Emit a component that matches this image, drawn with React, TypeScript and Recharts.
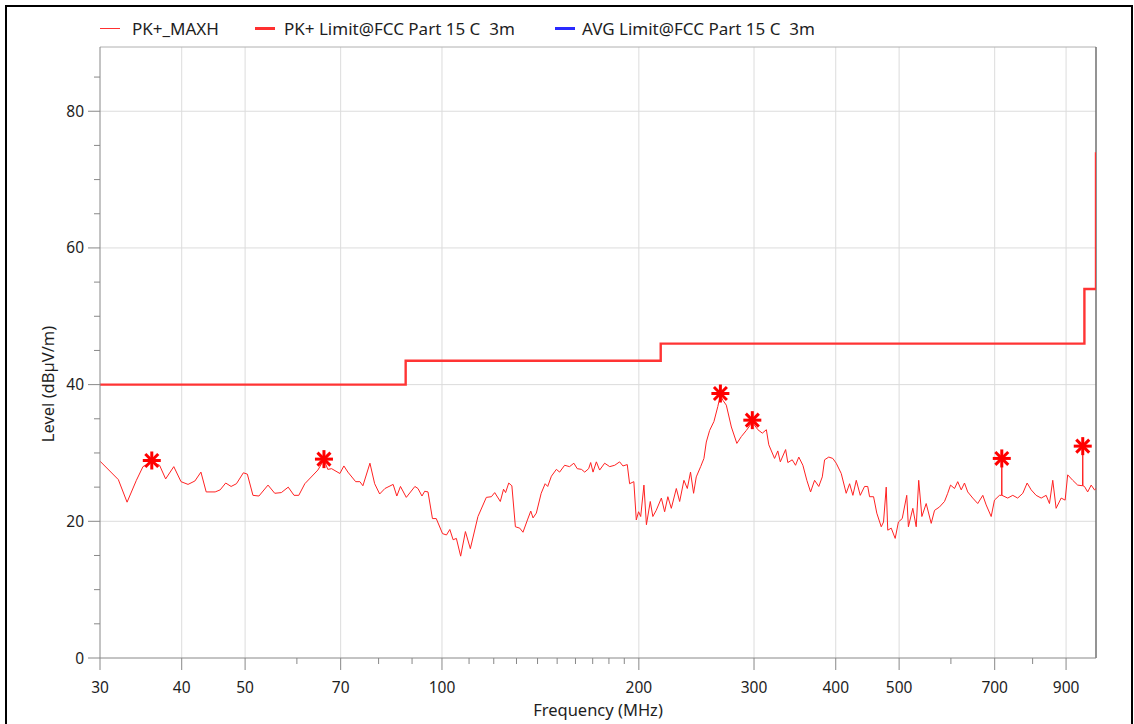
import React from "react";
import { ComposedChart, Line, Scatter, XAxis, YAxis, ReferenceLine } from "recharts";

// ---- data ----
const pkFreq = [
  30.0, 32.0, 33.0, 34.1, 34.9, 36.0, 37.0, 37.8, 38.9, 39.9, 40.9, 41.9, 42.8, 43.6, 45.0, 45.8, 46.7, 47.6, 48.5, 49.7,
  50.4, 51.4, 52.5, 54.2, 55.5, 56.8, 58.2, 59.4, 60.4, 61.7, 64.6, 66.0, 66.9, 67.8, 69.8, 70.8, 71.8, 73.8, 74.9, 75.7,
  77.6, 78.9, 80.3, 81.8, 84.2, 85.3, 86.4, 88.2, 90.9, 91.9, 93.2, 94.1, 95.2, 96.7, 98.0, 100.2, 101.6, 102.8, 104.0, 105.2,
  106.8, 108.6, 110.5, 113.5, 116.9, 119.0, 120.4, 122.8, 124.2, 125.1, 126.5, 127.9, 129.5, 131.5, 133.0, 135.1, 136.7, 137.8, 139.4, 141.8,
  143.8, 145.1, 147.0, 149.6, 151.3, 154.0, 156.7, 159.1, 161.0, 163.4, 165.3, 167.6, 168.8, 170.2, 172.2, 174.2, 177.3, 180.5, 183.7, 186.9,
  189.1, 192.0, 193.6, 196.5, 198.2, 199.8, 201.3, 203.6, 205.4, 208.2, 210.1, 212.6, 216.5, 219.0, 221.5, 224.2, 228.2, 230.9, 234.4, 237.2,
  239.9, 242.5, 244.8, 248.6, 251.5, 253.6, 256.6, 260.5, 264.1, 266.5, 268.9, 272.1, 277.0, 282.4, 286.9, 292.0, 298.2, 304.1, 308.9, 313.3,
  316.0, 322.5, 326.2, 329.1, 335.3, 337.9, 343.2, 347.2, 351.2, 356.3, 361.3, 366.1, 371.3, 376.8, 381.5, 384.6, 390.3, 395.9, 400.7, 407.8,
  415.0, 420.0, 424.9, 430.0, 436.1, 442.7, 447.7, 450.6, 457.0, 462.2, 469.5, 473.3, 477.8, 480.4, 486.3, 493.1, 498.8, 505.5, 513.6, 516.6,
  524.7, 531.0, 535.7, 541.7, 550.0, 559.8, 566.4, 576.4, 586.6, 593.3, 599.2, 607.7, 614.6, 622.2, 629.4, 636.6, 648.0, 659.4, 671.3, 679.3,
  691.4, 699.5, 711.9, 717.2, 717.7, 718.2, 732.8, 746.0, 759.0, 772.8, 784.7, 796.0, 809.9, 824.5, 839.0, 848.9, 858.8, 869.0, 884.6, 897.0,
  905.1, 921.4, 937.5, 953.6, 954.4, 955.2, 960.2, 971.1, 983.2, 994.6, 1000,
];
const pkLevel = [
  28.8, 26.1, 22.8, 26.0, 28.0, 28.7, 28.2, 26.2, 28.0, 25.8, 25.4, 25.9, 27.2, 24.3, 24.3, 24.6, 25.6, 25.1, 25.5, 27.1,
  26.9, 23.8, 23.7, 25.3, 24.1, 24.2, 25.0, 23.8, 23.8, 25.5, 27.5, 29.0, 27.6, 27.7, 27.0, 28.1, 27.2, 25.8, 25.8, 25.2,
  28.5, 25.5, 24.0, 24.8, 25.4, 23.7, 25.1, 23.5, 25.1, 24.8, 23.7, 24.4, 24.3, 20.4, 20.4, 18.2, 18.0, 18.8, 17.3, 17.5,
  14.9, 18.5, 16.0, 20.7, 23.5, 23.6, 24.2, 22.9, 24.7, 24.2, 25.6, 25.2, 19.2, 19.0, 18.4, 20.2, 21.5, 20.5, 21.2, 24.1,
  25.5, 25.1, 26.6, 27.6, 27.2, 28.2, 28.0, 28.5, 27.7, 27.6, 27.2, 27.7, 28.6, 27.2, 28.7, 27.5, 28.5, 28.0, 28.2, 28.7,
  28.1, 28.3, 25.5, 25.8, 20.2, 21.4, 20.7, 25.3, 19.5, 22.9, 20.7, 21.6, 23.4, 21.4, 23.6, 21.9, 24.8, 22.9, 26.0, 24.8,
  27.2, 24.1, 26.5, 28.0, 29.2, 31.6, 33.3, 34.6, 36.8, 38.5, 37.7, 37.0, 33.8, 31.4, 32.4, 33.3, 34.5, 33.4, 32.9, 33.4,
  31.2, 29.2, 30.3, 28.7, 30.5, 28.6, 29.0, 28.2, 29.4, 28.2, 26.0, 24.3, 26.0, 25.1, 26.5, 29.0, 29.4, 29.2, 28.5, 27.0,
  24.1, 25.5, 23.8, 26.0, 23.8, 25.1, 25.1, 23.6, 23.6, 21.2, 19.2, 19.9, 25.0, 18.7, 19.0, 17.5, 19.9, 20.4, 23.8, 19.2,
  21.9, 19.2, 26.0, 20.7, 22.6, 19.7, 21.6, 22.1, 22.9, 24.1, 25.3, 24.8, 25.8, 24.6, 25.6, 24.3, 23.4, 22.6, 23.8, 22.4,
  20.7, 23.1, 23.8, 23.8, 29.0, 23.8, 23.4, 23.8, 23.4, 24.1, 25.6, 24.6, 23.8, 23.4, 23.8, 22.6, 26.0, 21.9, 23.4, 23.1,
  26.8, 26.0, 25.3, 25.2, 30.9, 25.2, 25.1, 24.3, 25.3, 24.6, 24.8,
];

const limitFreq = [30, 88, 88, 216, 216, 960, 960, 1000, 1000];
const limitLevel = [40, 40, 43.5, 43.5, 46, 46, 54, 54, 74];

const markerFreq = [36.0, 66.0, 266.5, 298.2, 717.7, 954.4];
const markerLevel = [28.9, 29.1, 38.7, 34.8, 29.2, 31.0];

const freqTicksMajor = [30, 40, 50, 70, 100, 200, 300, 400, 500, 700, 900];
const freqTicksMinor = [60, 80, 90, 110, 120, 130, 140, 150, 160, 170, 180, 190, 600, 800];
const freqGrid = [40, 50, 70, 100, 200, 300, 400, 500, 700, 900];
const levelTicksMajor = [0, 20, 40, 60, 80];
const levelTicksMinor = [5, 10, 15, 25, 30, 35, 45, 50, 55, 65, 70, 75, 85];
const levelGrid = [20, 40, 60, 80];

const legendNames = ["PK+_MAXH", "PK+ Limit@FCC Part 15 C  3m", "AVG Limit@FCC Part 15 C  3m"];

const X_MIN = 30;
const X_MAX = 1000;
const Y_MAX = 89.4;

const pkData = pkFreq.map((f, i) => ({ f, v: pkLevel[i] }));
const limitData = limitFreq.map((f, i) => ({ f, v: limitLevel[i] }));
const markerData = markerFreq.map((f, i) => ({ f, v: markerLevel[i] }));

const FONT = "'Noto Sans', 'Open Sans', sans-serif";
const majorFreqSet = new Set(freqTicksMajor);
const majorLevelSet = new Set(levelTicksMajor);

const XTick = (props: any) => {
  const { x, y, payload } = props;
  const v = payload.value;
  const major = majorFreqSet.has(v);
  return (
    <g>
      <line x1={x} x2={x} y1={y} y2={y + (major ? 12 : 6)} stroke="#888" strokeWidth={1} />
      {major && (
        <text x={x} y={y + 35} textAnchor="middle" fontSize={15.5} fontFamily={FONT} fill="#1e1e1e">
          {v}
        </text>
      )}
    </g>
  );
};

const YTick = (props: any) => {
  const { x, y, payload } = props;
  const v = payload.value;
  const major = majorLevelSet.has(v);
  return (
    <g>
      <line x1={x - (major ? 12 : 6)} x2={x} y1={y} y2={y} stroke="#888" strokeWidth={1} />
      {major && (
        <text x={x - 16} y={y + 5.5} textAnchor="end" fontSize={15.5} fontFamily={FONT} fill="#1e1e1e">
          {v}
        </text>
      )}
    </g>
  );
};

const Asterisk = (props: any) => {
  const { cx, cy } = props;
  const r = 9;
  const d = r * 0.72;
  return (
    <g stroke="#ff0000" strokeWidth={3} strokeLinecap="butt">
      <line x1={cx - r} x2={cx + r} y1={cy} y2={cy} />
      <line x1={cx} x2={cx} y1={cy - r} y2={cy + r} />
      <line x1={cx - d} x2={cx + d} y1={cy - d} y2={cy + d} />
      <line x1={cx - d} x2={cx + d} y1={cy + d} y2={cy - d} />
    </g>
  );
};

const legendColors = ["#ff3030", "#ff3030", "#2a2aff"];
const legendWidths = [1, 3, 3];
const legendLeft = [100, 255, 555];
const legendGap = [12, 9, 7];

export default function App() {
  return (
    <div style={{ position: "absolute", left: 0, top: 0, width: 1134, height: 724, background: "#fff", overflow: "hidden" }}>
      <div
        style={{
          position: "absolute",
          left: 5,
          top: 5,
          width: 1124,
          height: 740,
          borderLeft: "2px solid #000",
          borderTop: "2px solid #000",
          borderRight: "2px solid #000",
        }}
      />
      {legendNames.map((n, i) => (
        <div key={n} style={{ position: "absolute", left: legendLeft[i], top: 16, height: 24, display: "flex", alignItems: "center" }}>
          <div style={{ width: 20, height: legendWidths[i], background: legendColors[i], marginRight: legendGap[i] }} />
          <span style={{ fontFamily: FONT, fontSize: 17, color: "#1e1e1e", whiteSpace: "pre" }}>{n}</span>
        </div>
      ))}
      <div style={{ position: "absolute", left: 0, top: 0 }}>
        <ComposedChart width={1134} height={724} margin={{ top: 47, right: 38, bottom: 0, left: 0 }}>
          <XAxis
            dataKey="f"
            type="number"
            scale="log"
            domain={[X_MIN, X_MAX]}
            allowDataOverflow
            ticks={[...freqTicksMajor, ...freqTicksMinor]}
            interval={0}
            tick={<XTick />}
            tickLine={false}
            tickSize={0}
            tickMargin={0}
            height={66}
            axisLine={{ stroke: "#888" }}
            label={{
              content: () => (
                <text x={598} y={716} textAnchor="middle" fontSize={16.5} fontFamily={FONT} fill="#1e1e1e">
                  Frequency (MHz)
                </text>
              ),
            }}
          />
          <YAxis
            dataKey="v"
            type="number"
            domain={[0, Y_MAX]}
            allowDataOverflow
            ticks={[...levelTicksMajor, ...levelTicksMinor]}
            interval={0}
            tick={<YTick />}
            tickLine={false}
            tickSize={0}
            tickMargin={0}
            width={100}
            axisLine={{ stroke: "#888" }}
            label={{
              content: () => (
                <text
                  x={0}
                  y={0}
                  transform="translate(54 384) rotate(-90)"
                  textAnchor="middle"
                  fontSize={16.5}
                  fontFamily={FONT}
                  fill="#1e1e1e"
                >
                  Level (dBµV/m)
                </text>
              ),
            }}
          />
          {freqGrid.map((f) => (
            <ReferenceLine key={"gx" + f} x={f} stroke="#dcdcdc" strokeWidth={1} />
          ))}
          {levelGrid.map((l) => (
            <ReferenceLine key={"gy" + l} y={l} stroke="#dcdcdc" strokeWidth={1} />
          ))}
          <ReferenceLine y={Y_MAX} stroke="#b0b0b0" strokeWidth={1} />
          <ReferenceLine x={X_MAX} stroke="#707070" strokeWidth={1.5} />
          <Line
            data={limitData}
            dataKey="v"
            type="linear"
            stroke="#ff3434"
            strokeWidth={2.4}
            dot={false}
            isAnimationActive={false}
          />
          <Line
            data={pkData}
            dataKey="v"
            type="linear"
            stroke="#ff2222"
            strokeWidth={1}
            dot={false}
            isAnimationActive={false}
          />
          <Scatter data={markerData} dataKey="v" shape={<Asterisk />} isAnimationActive={false} />
        </ComposedChart>
      </div>
    </div>
  );
}
